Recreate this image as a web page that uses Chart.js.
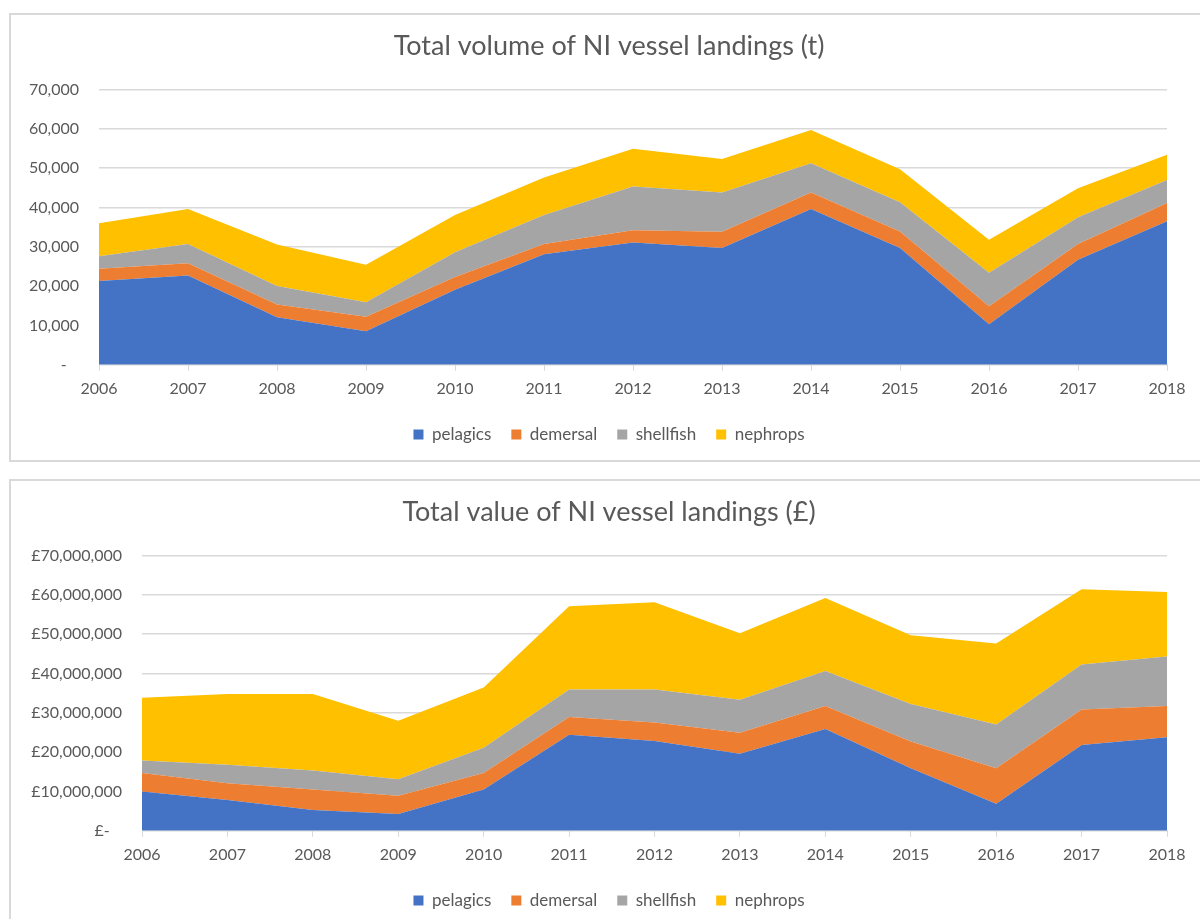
<!DOCTYPE html>
<html>
<head>
<meta charset="utf-8">
<script src="https://cdn.jsdelivr.net/npm/chart.js@4.4.0/dist/chart.umd.min.js"></script>
<style>
  body { margin: 0; background: #fff; width: 1200px; height: 919px; overflow: hidden; position: relative; }
  .caja { position: absolute; left: 9px; width: 1200px; height: 449px; border: 2px solid #d9d9d9; box-sizing: border-box; }
  #caja1 { top: 13px; }
  #caja2 { top: 479px; }
</style>
</head>
<body>
<div class="caja" id="caja1"><canvas id="graficoVolumen"></canvas></div>
<div class="caja" id="caja2"><canvas id="graficoValor"></canvas></div>
<script>
const anios = ['2006', '2007', '2008', '2009', '2010', '2011', '2012', '2013', '2014', '2015', '2016', '2017', '2018'];
const categorias = ['pelagics', 'demersal', 'shellfish', 'nephrops'];
const colores = ['#4472C4', '#ED7D31', '#A5A5A5', '#FFC000'];

// volumen (t)
const volPelagics  = [21300, 22700, 12100, 8500, 19100, 28100, 31100, 29700, 39600, 29700, 10300, 26700, 36500];
const volDemersal  = [3100, 3100, 3200, 3700, 3200, 2600, 3100, 4100, 4200, 4200, 4600, 4000, 4600];
const volShellfish = [3200, 4900, 4700, 3700, 6300, 7400, 11100, 10000, 7400, 7400, 8500, 6800, 5900];
const volNephrops  = [8400, 8900, 10600, 9500, 9500, 9500, 9600, 8500, 8500, 8400, 8400, 7400, 6400];

// valor (£)
const valPelagics  = [10000000, 7800000, 5300000, 4300000, 10500000, 24400000, 22800000, 19600000, 25900000, 15900000, 6900000, 21800000, 23800000];
const valDemersal  = [4700000, 4300000, 5200000, 4600000, 4200000, 4500000, 4700000, 5300000, 5800000, 6800000, 9000000, 9000000, 7900000];
const valShellfish = [3200000, 4700000, 4800000, 4200000, 6400000, 7000000, 8400000, 8400000, 8900000, 9500000, 11100000, 11500000, 12600000];
const valNephrops  = [15900000, 18000000, 19500000, 14900000, 15300000, 21200000, 22200000, 16900000, 18600000, 17500000, 20600000, 19100000, 16400000];

const grisTexto = '#595959';
const fuente = 'Lato, "Open Sans", sans-serif';

function armarDatasets(series) {
    return series.map((datos, i) => ({
        label: categorias[i],
        data: datos,
        backgroundColor: colores[i],
        borderColor: colores[i],
        borderWidth: 0,
        pointRadius: 0,
        tension: 0,
        fill: i === 0 ? 'origin' : '-1'
    }));
}

function crearGrafico(idCanvas, titulo, series, anchoEjeY, formatoTick, maximo, paso) {
    const ctx = document.getElementById(idCanvas).getContext('2d');
    return new Chart(ctx, {
        type: 'line',
        data: { labels: anios, datasets: armarDatasets(series) },
        options: {
            responsive: true,
            maintainAspectRatio: false,
            animation: false,
            layout: { padding: { left: 0, right: 0, top: 0, bottom: 7 } },
            plugins: {
                title: {
                    display: true,
                    text: titulo,
                    color: grisTexto,
                    font: { family: fuente, size: 27, weight: 'normal' },
                    padding: { top: 15, bottom: 27 }
                },
                legend: {
                    position: 'bottom',
                    labels: {
                        color: grisTexto,
                        font: { family: fuente, size: 17 },
                        boxWidth: 10,
                        boxHeight: 10,
                        padding: 20
                    }
                },
                tooltip: { enabled: false }
            },
            scales: {
                x: {
                    offset: false,
                    grid: { drawOnChartArea: false, drawTicks: true, tickLength: 6, color: '#d9d9d9' },
                    border: { display: true, color: '#d9d9d9' },
                    ticks: { color: grisTexto, font: { family: fuente, size: 16 }, padding: 8, maxRotation: 0 }
                },
                y: {
                    stacked: true,
                    min: 0,
                    max: maximo,
                    afterFit: (escala) => { escala.width = anchoEjeY; },
                    grid: { color: '#d9d9d9', lineWidth: 1.5, drawTicks: false },
                    border: { display: false },
                    ticks: {
                        stepSize: paso,
                        color: grisTexto,
                        font: { family: fuente, size: 16 },
                        padding: 20,
                        callback: formatoTick
                    }
                },
                // eje vacío a la derecha: deja el margen sin descentrar título y leyenda
                margenDerecho: {
                    position: 'right',
                    min: 0,
                    max: maximo,
                    afterFit: (escala) => { escala.width = 40; },
                    grid: { display: false },
                    border: { display: false },
                    ticks: { display: false }
                }
            }
        }
    });
}

crearGrafico('graficoVolumen', 'Total volume of NI vessel landings (t)',
    [volPelagics, volDemersal, volShellfish, volNephrops], 88,
    (v) => v === 0 ? '-   ' : new Intl.NumberFormat('en-GB').format(v), 70000, 10000);

crearGrafico('graficoValor', 'Total value of NI vessel landings (£)',
    [valPelagics, valDemersal, valShellfish, valNephrops], 131,
    (v) => v === 0 ? '£-   ' : '£' + new Intl.NumberFormat('en-GB').format(v), 70000000, 10000000);
</script>
</body>
</html>
